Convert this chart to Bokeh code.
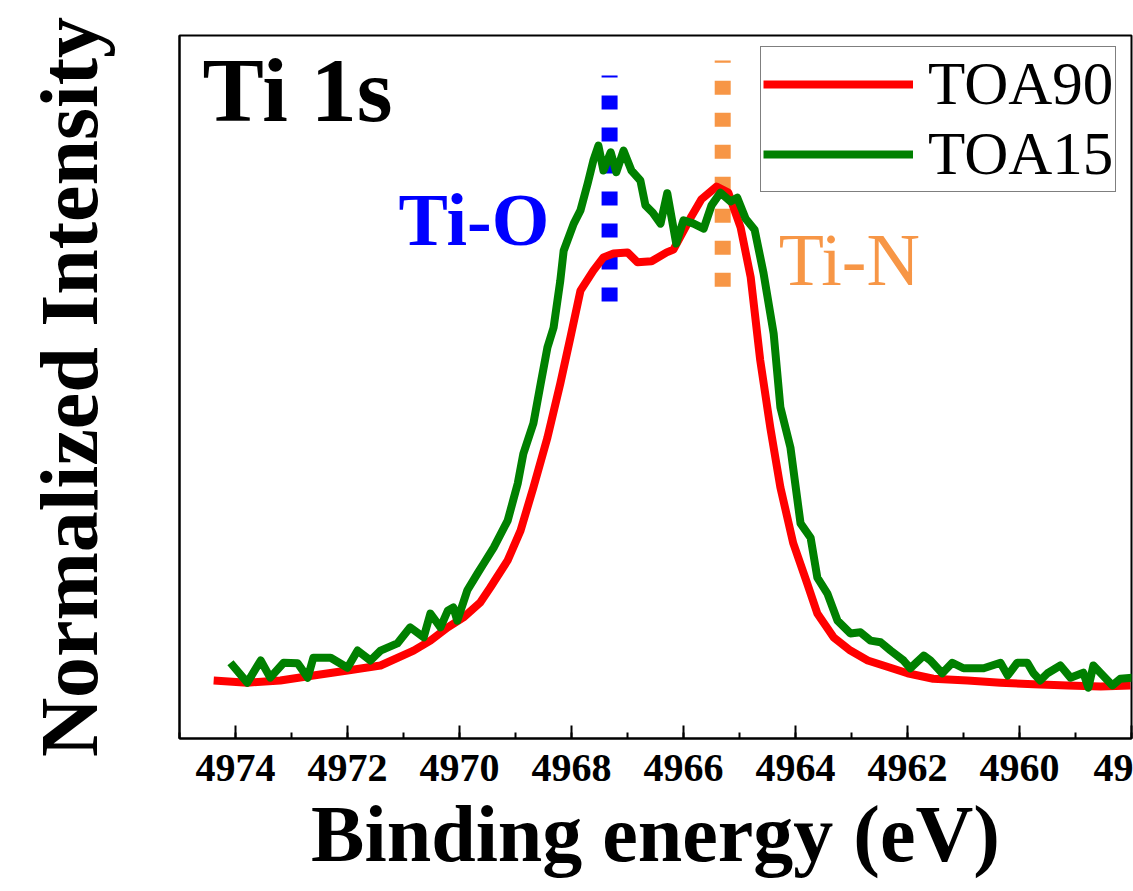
from bokeh.plotting import figure
from bokeh.models import Range1d, SingleIntervalTicker, FixedTicker, Legend, LegendItem, Label
from bokeh.embed import file_html
from bokeh.resources import INLINE

# ---------------- data (binding energy in eV, normalized intensity) ----------------
toa90_be = [4974.39, 4973.79, 4973.20, 4972.61, 4972.00, 4971.41, 4970.82, 4970.52, 4970.21,
            4969.93, 4969.63, 4969.45, 4969.14, 4968.91, 4968.68, 4968.43, 4968.20, 4968.02,
            4967.84, 4967.61, 4967.43, 4967.25, 4967.00, 4966.82, 4966.57, 4966.30, 4966.18,
            4965.86, 4965.68, 4965.41, 4965.20, 4964.98, 4964.80, 4964.63, 4964.45, 4964.27,
            4964.04, 4963.79, 4963.61, 4963.32, 4963.02, 4962.71, 4962.43, 4962.00, 4961.54,
            4960.93, 4960.34, 4959.75, 4959.14, 4958.55, 4958.02]
toa90_int = [0.105, 0.101, 0.105, 0.114, 0.123, 0.132, 0.159, 0.177, 0.201,
             0.219, 0.246, 0.273, 0.322, 0.376, 0.454, 0.544, 0.642, 0.725,
             0.810, 0.846, 0.870, 0.877, 0.879, 0.861, 0.863, 0.879, 0.884,
             0.944, 0.975, 0.998, 0.987, 0.924, 0.834, 0.684, 0.562, 0.454,
             0.353, 0.280, 0.226, 0.183, 0.159, 0.141, 0.132, 0.118, 0.108,
             0.105, 0.101, 0.098, 0.096, 0.094, 0.096]

toa15_be = [4974.09, 4973.79, 4973.55, 4973.38, 4973.14, 4972.89, 4972.71, 4972.61, 4972.30,
            4972.00, 4971.82, 4971.59, 4971.41, 4971.11, 4970.88, 4970.64, 4970.52, 4970.34,
            4970.21, 4970.11, 4970.04, 4969.86, 4969.68, 4969.57, 4969.39, 4969.14, 4968.96,
            4968.86, 4968.68, 4968.55, 4968.43, 4968.32, 4968.20, 4968.14, 4967.96, 4967.84,
            4967.71, 4967.61, 4967.52, 4967.43, 4967.30, 4967.20, 4967.07, 4966.93, 4966.77,
            4966.68, 4966.55, 4966.41, 4966.29, 4966.13, 4966.00, 4965.82, 4965.64, 4965.50,
            4965.34, 4965.16, 4965.04, 4964.89, 4964.73, 4964.57, 4964.39, 4964.27, 4964.09,
            4963.91, 4963.73, 4963.61, 4963.43, 4963.25, 4963.02, 4962.84, 4962.66, 4962.48,
            4962.30, 4962.07, 4961.95, 4961.71, 4961.59, 4961.38, 4961.20, 4961.00, 4960.64,
            4960.34, 4960.21, 4960.04, 4959.86, 4959.75, 4959.63, 4959.50, 4959.27, 4959.09,
            4958.86, 4958.77, 4958.68, 4958.34, 4958.20, 4957.96]
toa15_int = [0.137, 0.101, 0.141, 0.110, 0.137, 0.136, 0.110, 0.146, 0.146,
             0.128, 0.159, 0.141, 0.159, 0.172, 0.201, 0.183, 0.226, 0.201,
             0.231, 0.237, 0.213, 0.268, 0.298, 0.316, 0.345, 0.394, 0.461,
             0.515, 0.570, 0.642, 0.707, 0.743, 0.828, 0.882, 0.931, 0.955,
             1.004, 1.045, 1.072, 1.027, 1.060, 1.024, 1.063, 1.027, 1.009,
             0.964, 0.951, 0.931, 0.986, 0.895, 0.937, 0.931, 0.922, 0.964,
             0.987, 0.971, 0.978, 0.940, 0.920, 0.841, 0.732, 0.599, 0.526,
             0.389, 0.363, 0.291, 0.262, 0.213, 0.190, 0.192, 0.177, 0.174,
             0.159, 0.141, 0.127, 0.150, 0.141, 0.118, 0.137, 0.127, 0.127,
             0.137, 0.114, 0.137, 0.137, 0.118, 0.105, 0.118, 0.132, 0.110,
             0.119, 0.092, 0.132, 0.096, 0.108, 0.110]

# reference peak positions (eV) and extent of the marker lines (normalized intensity)
ti_o_be = 4967.32
ti_o_span = [0.790, 1.199]
ti_n_be = 4965.30
ti_n_span = [0.817, 1.226]

x_ticks_interval = 2
series_names = ["TOA90", "TOA15"]
# the last tick label is cut at the picture's edge in the original: only "49" is visible
edge_label = {4958: "49"}

FONT = "Liberation Serif, Times New Roman, serif"

p = figure(width=1133, height=891, output_backend="svg", toolbar_location=None,
           x_range=Range1d(4975, 4958), y_range=Range1d(0, 1.2712),
           min_border_left=179, min_border_right=2, min_border_top=35, min_border_bottom=153)
p.background_fill_color = "white"
p.border_fill_color = "white"
p.outline_line_color = "black"
p.outline_line_width = 2
p.xgrid.visible = False
p.ygrid.visible = False

# x axis
xa = p.xaxis[0]
xa.ticker = SingleIntervalTicker(interval=x_ticks_interval, num_minor_ticks=2)
xa.major_label_overrides = edge_label
xa.major_tick_in = 13
xa.major_tick_out = 0
xa.minor_tick_in = 6
xa.minor_tick_out = 0
xa.major_tick_line_width = 2
xa.minor_tick_line_width = 2
xa.axis_line_width = 2
xa.major_label_text_font = FONT
xa.major_label_text_font_style = "bold"
xa.major_label_text_font_size = "40px"
xa.major_label_text_color = "black"
xa.major_label_standoff = 16
xa.axis_label = "Binding energy (eV)"
xa.axis_label_text_font = FONT
xa.axis_label_text_font_style = "bold"
xa.axis_label_text_font_size = "80px"
xa.axis_label_text_color = "black"
xa.axis_label_standoff = 6

# y axis
ya = p.yaxis[0]
ya.ticker = FixedTicker(ticks=[])
ya.major_tick_out = 0
ya.major_tick_in = 0
ya.minor_tick_out = 0
ya.axis_line_width = 2
ya.axis_label = "Normalized Intensity"
ya.axis_label_text_font = FONT
ya.axis_label_text_font_style = "bold"
ya.axis_label_text_font_size = "82px"
ya.axis_label_text_color = "black"
ya.axis_label_standoff = 65

# reference marker lines
p.line([ti_o_be, ti_o_be], ti_o_span, line_color="#0000FF", line_width=16, line_dash="14 18")
p.line([ti_n_be, ti_n_be], ti_n_span, line_color="#F79646", line_width=16, line_dash="14 18")

# spectra
r90 = p.line(toa90_be, toa90_int, line_color="#FF0000", line_width=8, line_join="round")
r15 = p.line(toa15_be, toa15_int, line_color="#008000", line_width=8, line_join="round")

legend = Legend(items=[LegendItem(label=series_names[0], renderers=[r90]),
                       LegendItem(label=series_names[1], renderers=[r15])],
                location=(581, 546), margin=0, padding=2, spacing=0,
                glyph_width=150, glyph_height=40, label_standoff=15,
                label_text_font=FONT, label_text_font_size="61px", label_text_color="black",
                label_text_line_height=1.0,
                border_line_color="black", border_line_width=1.5,
                background_fill_color="white", background_fill_alpha=1.0)
p.add_layout(legend, "center")

# annotations (anchored at the bottom of the text box)
p.add_layout(Label(x=4974.59, y=1.081, text="Ti 1s", text_font=FONT, text_font_style="bold",
                   text_font_size="92px", text_color="black"))
p.add_layout(Label(x=4971.09, y=0.864, text="Ti-O", text_font=FONT, text_font_style="bold",
                   text_font_size="74px", text_color="#0000FF"))
p.add_layout(Label(x=4964.30, y=0.792, text="Ti-N", text_font=FONT, text_font_style="normal",
                   text_font_size="74px", text_color="#F79646"))

open("out.html", "w").write(file_html(p, INLINE))
